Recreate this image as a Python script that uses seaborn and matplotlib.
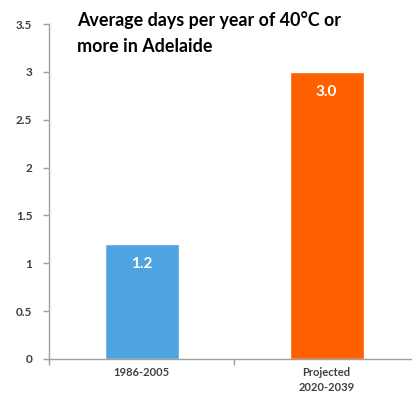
import matplotlib
matplotlib.use("Agg")
import matplotlib.pyplot as plt
import seaborn as sns
import pandas as pd

periods = ["1986-2005", "Projected\n2020-2039"]
avg_days = [1.2, 3.0]
bar_colors = ["#4FA3E0", "#FF6000"]
y_ticks = [0, 0.5, 1, 1.5, 2, 2.5, 3, 3.5]
y_tick_labels = ["0", "0.5", "1", "1.5", "2", "2.5", "3", "3.5"]
title_lines = ["Average days per year of 40\u00b0C or", "more in Adelaide"]

sns.set_theme(style="white")
plt.rcParams["font.family"] = ["Lato", "DejaVu Sans"]

df = pd.DataFrame({"period": periods, "days": avg_days})

fig = plt.figure(figsize=(4.12, 3.94), dpi=100)
ax = fig.add_axes([0.119, 0.089, 0.898, 0.850])

sns.barplot(data=df, x="period", y="days", hue="period", palette=bar_colors,
            width=0.4, legend=False, ax=ax, saturation=1)

ax.set_xlim(-0.5, 1.5)
ax.set_ylim(0, 3.5)
ax.set_yticks(y_ticks)
ax.set_yticklabels(y_tick_labels, fontsize=8.5, fontweight="bold",
                   color="#404040")
ax.set_xlabel("")
ax.set_ylabel("")

# category labels sit between boundary tick marks
ax.set_xticks([0, 1])
ax.set_xticklabels(periods, fontsize=8, fontweight="bold", color="#404040",
                   linespacing=1.45)
ax.tick_params(axis="x", length=0, pad=6)
ax.set_xticks([-0.5, 0.5, 1.5], minor=True)
ax.tick_params(axis="x", which="minor", direction="out", length=4,
               color="#a0a0a0", width=1, bottom=True)
ax.tick_params(axis="y", direction="out", length=4, color="#a0a0a0", width=1,
               left=True, pad=8)

for side in ["top", "right"]:
    ax.spines[side].set_visible(False)
for side in ["left", "bottom"]:
    ax.spines[side].set_color("#a0a0a0")
    ax.spines[side].set_linewidth(1)

for i, v in enumerate(avg_days):
    ax.text(i, v - 0.21, f"{v:.1f}", ha="center", va="center", color="white",
            fontsize=11, fontweight="bold")

ax.text(0.075, 0.994, title_lines[0], transform=ax.transAxes, ha="left",
        va="baseline", fontsize=12.9, fontweight="bold", color="black")
ax.text(0.075, 0.916, title_lines[1], transform=ax.transAxes, ha="left",
        va="baseline", fontsize=12.9, fontweight="bold", color="black")

fig.savefig("out.png", dpi=100)
